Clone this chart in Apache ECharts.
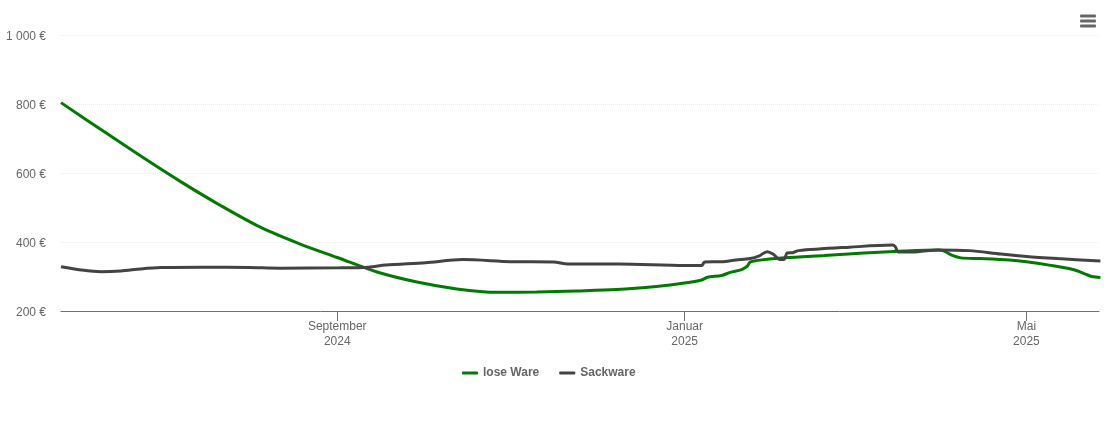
<!DOCTYPE html>
<html><head><meta charset="utf-8">
<style>html,body{margin:0;padding:0;background:#fff}#c{width:1110px;height:422px}</style>
<script src="https://cdn.jsdelivr.net/npm/echarts@6/dist/echarts.min.js"></script>
</head><body><div id="c"></div>
<script>
const looseDates = ['2024-05-27','2024-06-10','2024-06-24','2024-07-08','2024-07-22','2024-08-05','2024-08-19','2024-09-01','2024-09-15','2024-09-29','2024-10-13','2024-10-27','2024-11-10','2024-11-24','2024-12-08','2024-12-22','2025-01-01','2025-01-07','2025-01-09','2025-01-14','2025-01-17','2025-01-21','2025-01-23','2025-01-24','2025-01-26','2025-02-05','2025-02-19','2025-03-05','2025-03-19','2025-03-31','2025-04-02','2025-04-05','2025-04-08','2025-04-15','2025-04-25','2025-05-01','2025-05-09','2025-05-18','2025-05-22','2025-05-24','2025-05-27'];
const looseValues = [804,726,649,575,506,443,394,355,313,284,264,254,255,258,262,271,281,290,298,303,312,320,330,342,346,354,361,368,374,377,374,361,354,352,348,343,333,319,306,300,297];
const sackDates = ['2024-05-27','2024-06-03','2024-06-10','2024-06-17','2024-06-24','2024-07-01','2024-07-15','2024-08-01','2024-08-12','2024-09-01','2024-09-12','2024-09-18','2024-10-02','2024-10-15','2024-11-01','2024-11-16','2024-11-21','2024-12-09','2025-01-01','2025-01-07','2025-01-08','2025-01-14','2025-01-19','2025-01-24','2025-01-27','2025-01-30','2025-02-01','2025-02-03','2025-02-04','2025-02-05','2025-02-06','2025-02-08','2025-02-10','2025-02-28','2025-03-15','2025-03-16','2025-03-17','2025-03-24','2025-03-31','2025-04-11','2025-04-22','2025-05-01','2025-05-12','2025-05-27'];
const sackValues = [328,319,314,316,322,326,327,326,324,325,327,333,340,349,343,342,336,336,332,332,342,343,348,352,359,372,365,351,349,350,368,369,375,385,391,386,371,372,377,375,365,358,352,345];
const tickDates = ['2024-09-01','2025-01-01','2025-05-01'];
const tickLabels = ['September\n2024','Januar\n2025','Mai\n2025'];
const yTicks = ['200 €','400 €','600 €','800 €','1 000 €'];
const seriesNames = ['lose Ware','Sackware'];
const colors = ['#007a00','#434343'];

const ts = s => new Date(s + 'T00:00:00Z').getTime();
const zip = (d, v) => d.map((x, i) => [ts(x), v[i]]);
const tickTs = tickDates.map(ts);
const chart = echarts.init(document.getElementById('c'), null, {renderer:'canvas'});
const font = 'Liberation Sans, Arial, sans-serif';
chart.setOption({
  animation:false,
  color:colors,
  grid:{left:61,right:11,top:35,bottom:111},
  legend:{
    data:seriesNames,left:457,top:362,icon:'roundRect',itemWidth:16,itemHeight:3,itemGap:20,
    textStyle:{fontFamily:font,fontSize:12,fontWeight:'bold',color:'#666666'}
  },
  xAxis:{
    type:'value',min:ts('2024-05-27'),max:ts('2025-05-26')+43200000,scale:true,
    axisLine:{lineStyle:{color:'#707070',width:1}},
    axisTick:{show:true,length:10,customValues:tickTs,lineStyle:{color:'#707070'}},
    splitLine:{show:false},
    axisLabel:{
      customValues:tickTs,hideOverlap:false,margin:8,lineHeight:15,
      color:'#666666',fontFamily:font,fontSize:12,
      formatter:v=>tickLabels[tickTs.indexOf(v)]||''
    }
  },
  yAxis:{
    type:'value',min:200,max:1000,interval:200,
    axisLine:{show:false},axisTick:{show:false},
    splitLine:{lineStyle:{color:'#ececec',type:'dotted',width:1}},
    axisLabel:{margin:15,color:'#666666',fontFamily:font,fontSize:12,verticalAlign:'top',lineHeight:3,
      formatter:v=>yTicks[(v-200)/200]}
  },
  series:[
    {name:seriesNames[0],type:'line',data:zip(looseDates,looseValues),showSymbol:false,smooth:0.3,lineStyle:{width:3}},
    {name:seriesNames[1],type:'line',data:zip(sackDates,sackValues),showSymbol:false,smooth:0.3,lineStyle:{width:3}}
  ],
  graphic:[16,21,26].map(y=>({type:'rect',silent:true,shape:{x:1080,y:y-1.5,width:16,height:3,r:1},style:{fill:'#666666'}}))
});
</script></body></html>
